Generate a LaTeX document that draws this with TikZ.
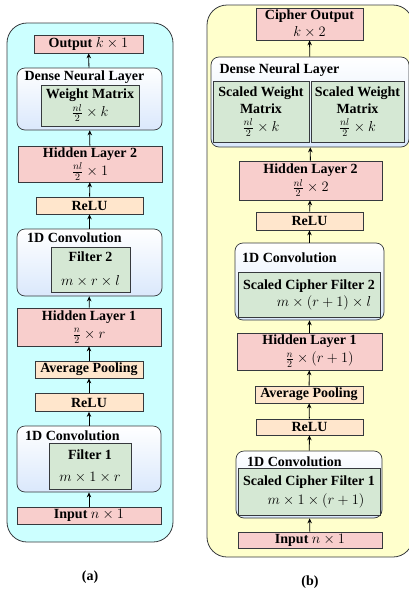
\documentclass[tikz,border=0pt]{standalone}
\usepackage{fontspec}
\setmainfont{Liberation Serif}
\usetikzlibrary{arrows.meta}
\definecolor{pk}{HTML}{F8CECC}
\definecolor{orc}{HTML}{FFE6CC}
\definecolor{gr}{HTML}{D5E8D4}
\definecolor{bl}{HTML}{DAE8FC}
\definecolor{cy}{HTML}{CCFFFF}
\definecolor{ye}{HTML}{FFFFCC}
\definecolor{bd}{HTML}{36393D}
\tikzset{
 base/.style={draw=bd, line width=0.7pt, inner sep=0pt, align=center, font=\fontsize{14}{17}\selectfont\bfseries},
 pinkbox/.style={base, fill=pk},
 orbox/.style={base, fill=orc},
 grbox/.style={base, fill=gr},
 cont/.style={draw=bd, line width=0.7pt, rounded corners=8pt, top color=white, bottom color=bl, inner sep=0pt},
 panel/.style={draw=bd, line width=0.8pt, rounded corners=20pt, inner sep=0pt},
 lbl/.style={font=\fontsize{14}{17}\selectfont\bfseries, inner sep=0pt},
 arr/.style={-{Stealth[length=5pt,width=4.5pt]}, line width=0.8pt},
}
\begin{document}
\begin{tikzpicture}[x=1pt,y=-1pt]
\useasboundingbox (0,0) rectangle (409,590);
% panels
\node[panel, fill=cy, minimum width=166pt, minimum height=519pt] (pa) at (90,282.5) {};
\node[panel, fill=ye, minimum width=206pt, minimum height=552pt] (pb) at (310,281) {};
% ---------------- panel a
\node[cont, minimum width=145pt, minimum height=62pt] (adense) at (89.5,99) {};
\node[lbl] (adl) at (84.5,77) {Dense Neural Layer};
\node[grbox, minimum width=98pt, minimum height=41pt] (awm) at (90,105.5) {Weight Matrix\\[1pt]$\frac{nl}{2}\times k$};
\node[pinkbox, minimum width=109pt, minimum height=18pt] (aout) at (88.5,44) {Output $k\times 1$};
\node[pinkbox, minimum width=144pt, minimum height=36pt] (ah2) at (90,164) {Hidden Layer 2\\[1pt]$\frac{nl}{2}\times 1$};
\node[orbox, minimum width=107pt, minimum height=17pt] (arelu2) at (89.5,205.5) {ReLU};
\node[cont, minimum width=145pt, minimum height=67pt] (aconv2) at (89.5,262.5) {};
\node[lbl] (acl2) at (74.5,238) {1D Convolution};
\node[grbox, minimum width=79pt, minimum height=45pt] (af2) at (90.5,269.5) {Filter 2\\[7pt]$m\times r\times l$};
\node[pinkbox, minimum width=144pt, minimum height=38pt] (ah1) at (89,327) {Hidden Layer 1\\[1pt]$\frac{n}{2}\times r$};
\node[orbox, minimum width=108pt, minimum height=17pt] (aap) at (89,369.5) {Average Pooling};
\node[orbox, minimum width=108pt, minimum height=18pt] (arelu1) at (89,402.5) {ReLU};
\node[cont, minimum width=144pt, minimum height=66pt] (aconv1) at (89,459) {};
\node[lbl] (acl1) at (72.5,436) {1D Convolution};
\node[grbox, minimum width=82pt, minimum height=46pt] (af1) at (90,466) {Filter 1\\[5pt]$m\times 1\times r$};
\node[pinkbox, minimum width=144pt, minimum height=17pt] (ain) at (89,515.5) {Input $n\times 1$};
\node[lbl] (la) at (90,577) {(a)};
\draw[arr] (ain) -- (aconv1);
\draw[arr] (aconv1) -- (arelu1);
\draw[arr] (arelu1) -- (aap);
\draw[arr] (aap) -- (ah1);
\draw[arr] (ah1) -- (aconv2);
\draw[arr] (aconv2) -- (arelu2);
\draw[arr] (arelu2) -- (ah2);
\draw[arr] (ah2) -- (adense);
\draw[arr] (adense) -- (aout);
% ---------------- panel b
\node[cont, minimum width=198pt, minimum height=90pt] (bdense) at (310,102) {};
\node[lbl] (bdl) at (279.5,70) {Dense Neural Layer};
\node[grbox, minimum width=96pt, minimum height=61pt] (bsw1) at (261,111.5) {Scaled Weight\\Matrix\\[1pt]$\frac{nl}{2}\times k$};
\node[grbox, minimum width=93pt, minimum height=61pt] (bsw2) at (357.5,111.5) {Scaled Weight\\Matrix\\[1pt]$\frac{nl}{2}\times k$};
\node[pinkbox, minimum width=107pt, minimum height=32pt] (bout) at (309.5,24) {Cipher Output\\$k\times 2$};
\node[pinkbox, minimum width=143pt, minimum height=39pt] (bh2) at (310.5,180.5) {Hidden Layer 2\\[1pt]$\frac{nl}{2}\times 2$};
\node[orbox, minimum width=107pt, minimum height=18pt] (brelu2) at (309.5,221) {ReLU};
\node[cont, minimum width=149pt, minimum height=77pt] (bconv2) at (309.5,281.5) {};
\node[lbl] (bcl2) at (289.5,258) {1D Convolution};
\node[grbox, minimum width=142pt, minimum height=45pt] (bf2) at (309,294.5) {Scaled Cipher Filter 2\\\hspace*{30pt}$m\times (r+1)\times l$};
\node[pinkbox, minimum width=145pt, minimum height=37pt] (bh1) at (309.5,351.5) {Hidden Layer 1\\[1pt]\hspace*{20pt}$\frac{n}{2}\times (r+1)$};
\node[orbox, minimum width=108pt, minimum height=17pt] (bap) at (309,394.5) {Average Pooling};
\node[orbox, minimum width=107pt, minimum height=16pt] (brelu1) at (309.5,427) {ReLU};
\node[cont, minimum width=146pt, minimum height=67pt] (bconv1) at (309,484.5) {};
\node[lbl] (bcl1) at (294.5,462) {1D Convolution};
\node[grbox, minimum width=142pt, minimum height=47pt] (bf1) at (309,491.5) {Scaled Cipher Filter 1\\[2pt]\hspace*{14pt}$m\times 1\times (r+1)$};
\node[pinkbox, minimum width=144pt, minimum height=16pt] (bin) at (310,540) {Input $n\times 1$};
\node[lbl] (lb) at (310,582) {(b)};
\draw[arr] (bin) -- (bconv1);
\draw[arr] (bconv1) -- (brelu1);
\draw[arr] (brelu1) -- (bap);
\draw[arr] (bap) -- (bh1);
\draw[arr] (bh1) -- (bconv2);
\draw[arr] (bconv2) -- (brelu2);
\draw[arr] (brelu2) -- (bh2);
\draw[arr] (bh2) -- (bdense);
\draw[arr] (bdense) -- (bout);
\end{tikzpicture}
\end{document}
